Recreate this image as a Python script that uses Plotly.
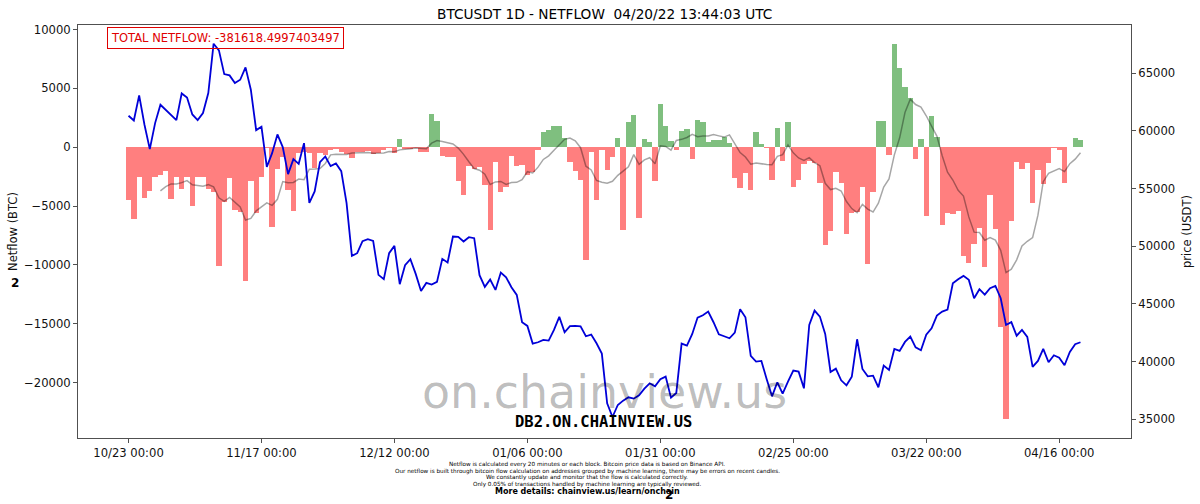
import pandas as pd
import plotly.graph_objects as go

start_date = "2021-10-23"
end_date = "2022-04-20"
dates = pd.date_range(start_date, end_date, freq="D")

netflow = [
    -4480, -6100, -2500, -4340, -3745, -2500, -2350, -1985, -4425, -2500,
    -3575, -2550, -5020, -2550, -2550, -3550, -3800, -10130, -4625, -2640,
    -5330, -5475, -11350, -2840, -5620, -2500, -50, -6750, -1870, -800,
    -3630, -5390, -510, -370, -500, -1790, -500, -650, -230, -140,
    -425, -570, -940, -450, -370, -310, -570, -510, -280, -100,
    -510, 680, -150, -115, -60, -370, -370, 2810, 2210, -710,
    -820, -850, -2840, -4060, -1590, -1870, -1645, -3180, -7035, -1300,
    -3770, -3350, -710, -1590, -1530, -2350, -2070, -280, 1250, 1420,
    1760, 1815, 770, -1300, -1985, -2780, -9590, -450, -4480, -230,
    -1930, -850, 770, -7035, 2130, 2700, -6015, 710, 450, -2865,
    3690, 1760, 540, -280, 1360, 1560, -965, 2300, 2160, 480,
    570, 620, 850, 340, -2640, -3430, -2155, -3660, 1330, 280,
    -50, -2750, 1590, -1190, 2100, -3350, -2780, -1450, -1135, -1360,
    -3060, -8340, -7090, -2070, -3010, -7405, -5560, -5475, -3400, -9960,
    -3770, 2210, 2210, -650, 8795, 6750, 5080, 4170, -990, 710,
    -5840, 2610, 850, -6610, -5590, -5670, -5420, -9220, -9815, -8230,
    -6840, -10155, -4060, -6980, -15260, -23065, -6240, -1280, -1840, -1305,
    -4770, -1930, -3150, -1305, -85, -230, -3065, -20, 750, 600,
]

netflow_avg = [
    -3716, -3360, -3121, -3121, -3011, -2841, -3201, -3229, -3310, -3185,
    -3371, -4307, -4604, -4264, -4661, -5079, -6193, -6056, -5411, -5108,
    -4738, -4941, -4426, -2919, -3031, -2999, -2714, -2760, -1867, -1856,
    -1813, -1387, -650, -597, -605, -615, -494, -486, -446, -458,
    -519, -531, -490, -370, -379, -229, -206, -141, -76, -89,
    -128, 346, 565, 485, 384, 271, -81, -609, -1237, -1820,
    -1954, -2291, -3174, -2954, -2913, -3164, -2999, -2991, -2755, -2086,
    -2196, -1697, -1040, -736, -257, 221, 666, 776, 533, -43,
    -1616, -1931, -2831, -2974, -3064, -2901, -2394, -2029, -1661, -635,
    -1461, -1084, -899, -1418, 114, 61, -247, 572, 665, 824,
    1095, 896, 954, 945, 1066, 961, 859, 1046, 340, -459,
    -835, -1439, -1338, -1419, -1475, -1491, -774, -636, 187, -481,
    -919, -1119, -888, -1309, -1576, -3068, -3602, -3501, -3724, -4619,
    -5219, -5564, -4859, -5269, -5511, -4766, -3392, -2691, -652, 798,
    2946, 4081, 3624, 3409, 2668, 1784, 941, -729, -2123, -2791,
    -3667, -4150, -5925, -7222, -7255, -7907, -7677, -7900, -8763, -10656,
    -10371, -9577, -8389, -7996, -7680, -5776, -2931, -2226, -2055, -1825,
    -2076, -1398, -1015, -479,
]

price = [
    61296, 60891, 63059, 60515, 58406, 60660, 62249, 61787, 61296, 60920,
    63232, 62885, 61411, 60920, 61527, 63261, 67538, 66960, 64908, 64793,
    64128, 64417, 65486, 63550, 60053, 60342, 56874, 58059, 59677, 58579,
    56238, 57539, 57134, 58926, 53753, 54735, 57279, 57770, 56932, 57163,
    56498, 53724, 49158, 49389, 50429, 50603, 50458, 47510, 47135, 49389,
    50025, 46701, 48349, 48869, 47597, 46123, 46817, 46672, 46904, 48898,
    48580, 50834, 50805, 50400, 50776, 50689, 47482, 46470, 47106, 46210,
    47713, 47308, 46441, 45776, 43407, 43089, 41557, 41673, 41875, 41817,
    42742, 43870, 42540, 43070, 43089, 43060, 42193, 42337, 41586, 40690,
    36384, 35199, 36239, 36615, 36904, 36789, 37078, 37656, 38118, 37858,
    38465, 38696, 36875, 37280, 41557, 41384, 42395, 43811, 44014, 44331,
    43407, 42366, 42193, 42020, 42511, 44534, 43840, 40488, 39996, 40054,
    38465, 36991, 38205, 37220, 38262, 39216, 39129, 37684, 43175, 44418,
    43898, 42395, 39101, 39390, 38378, 37945, 38696, 41933, 39361, 38725,
    38783, 37771, 39650, 39274, 41095, 40921, 41702, 42164, 41239, 40979,
    42337, 42886, 43985, 44331, 44505, 46788, 47135, 47424, 47077, 45487,
    46268, 45805, 46354, 46557, 45487, 43175, 43420, 42240, 42742, 42135,
    39534, 40054, 41095, 39939, 40546, 40343, 39679, 40835, 41499, 41673,
]

netflow_ticks = [10000, 5000, 0, -5000, -10000, -15000, -20000]
price_ticks = [65000, 60000, 55000, 50000, 45000, 40000, 35000]
date_ticks = ["2021-10-23", "2021-11-17", "2021-12-12", "2022-01-06",
              "2022-01-31", "2022-02-25", "2022-03-22", "2022-04-16"]
date_tick_labels = ["10/23 00:00", "11/17 00:00", "12/12 00:00", "01/06 00:00",
                    "01/31 00:00", "02/25 00:00", "03/22 00:00", "04/16 00:00"]

title_text = "BTCUSDT 1D - NETFLOW  04/20/22 13:44:03 UTC"
total_text = "TOTAL NETFLOW: -381618.4997403497"
footnotes = [
    "Netflow is calculated every 20 minutes or each block. Bitcoin price data is based on Binance API.",
    "Our netflow is built through bitcoin flow calculation on addresses grouped by machine learning, there may be errors on recent candles.",
    "We constantly update and monitor that the flow is calculated correctly.",
    "Only 0.05% of transactions handled by machine learning are typically reviewed.",
]

L, R, T, B = 78.0, 1131.5, 25.3, 438.0
FONT = "DejaVu Sans"


def px(x):
    return (x - L) / (R - L)


def py(y):
    return (B - y) / (B - T)


fig = go.Figure()
fig.add_trace(go.Bar(
    x=dates, y=netflow, width=86400000,
    marker=dict(color=["rgba(0,128,0,0.5)" if v > 0 else "rgba(255,0,0,0.5)" for v in netflow],
                line=dict(width=0)),
    showlegend=False, hoverinfo="skip", yaxis="y",
))
fig.add_trace(go.Scatter(
    x=dates[6:], y=netflow_avg, mode="lines",
    line=dict(color="rgba(0,0,0,0.35)", width=1.5),
    showlegend=False, hoverinfo="skip", yaxis="y",
))
fig.add_trace(go.Scatter(
    x=dates, y=price, mode="lines",
    line=dict(color="#0000d8", width=1.8),
    showlegend=False, hoverinfo="skip", yaxis="y2",
))

axis_common = dict(
    showgrid=False, zeroline=False, showline=True, linecolor="#505050", linewidth=1,
    ticks="outside", ticklen=4, tickwidth=1, tickcolor="#505050",
    tickfont=dict(family=FONT, size=11.6, color="#111111"),
)


def note(text, x, y, size, color="#000000", family=FONT, **kw):
    return dict(text=text, xref="paper", yref="paper", x=px(x), y=py(y),
                xanchor="center", yanchor="middle", showarrow=False,
                font=dict(family=family, size=size, color=color), **kw)


annotations = [
    note(title_text, 604.5, 14.5, 13.7),
    note(total_text, 225.3, 38.5, 11.5, color="#e00000",
         bordercolor="#e00000", borderwidth=1, borderpad=3, bgcolor="rgba(255,255,255,0)"),
    note("on.chainview.us", 605, 392, 45.9, color="rgba(0,0,0,0.27)"),
    note("<b>DB2.ON.CHAINVIEW.US</b>", 603.5, 422, 15.5, family="DejaVu Sans Mono"),
    note("<b>More details: chainview.us/learn/onchain</b>", 588, 491, 8),
    note("<b>2</b>", 669, 495, 12),
    note("<b>2</b>", 15, 283, 12),
]
for line, line_y in zip(footnotes, [464.5, 471, 477.5, 484]):
    annotations.append(note(line, 587.5, line_y, 5.7))

fig.update_layout(
    width=1200, height=504,
    margin=dict(l=L, r=1200 - R, t=T, b=504 - B, pad=0, autoexpand=False),
    paper_bgcolor="white", plot_bgcolor="white",
    barmode="overlay", bargap=0,
    font=dict(family=FONT, size=11, color="#111111"),
    xaxis=dict(
        type="date",
        range=[pd.Timestamp(start_date) - pd.Timedelta(hours=228),
               pd.Timestamp(end_date) + pd.Timedelta(hours=228)],
        tickvals=date_ticks, ticktext=date_tick_labels, mirror=True, **axis_common,
    ),
    yaxis=dict(
        range=[-24715, 10383], tickvals=netflow_ticks, tickformat="d",
        title=dict(text="Netflow (BTC)", font=dict(family=FONT, size=11.5, color="#111111"), standoff=4),
        **axis_common,
    ),
    yaxis2=dict(
        range=[33379, 69160], tickvals=price_ticks, tickformat="d",
        overlaying="y", side="right",
        title=dict(text="price (USDT)", font=dict(family=FONT, size=11.5, color="#111111"), standoff=8),
        **axis_common,
    ),
    annotations=annotations,
)

fig.write_html("out.html", config={"displayModeBar": False},
               post_script="document.body.style.margin='0';document.body.style.overflow='hidden';")
